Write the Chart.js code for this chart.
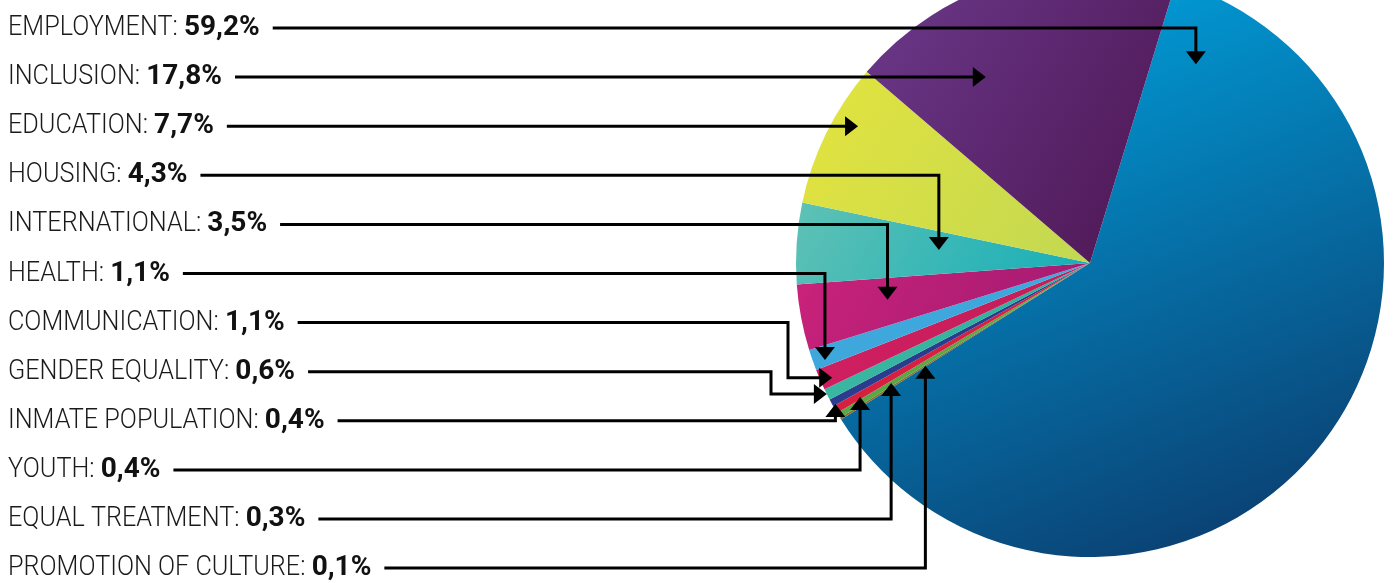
<!DOCTYPE html>
<html>
<head>
<meta charset="utf-8">
<script src="https://cdn.jsdelivr.net/npm/chart.js@4.4.1/dist/chart.umd.min.js"></script>
<style>
  html, body { margin: 0; padding: 0; background: #fff; overflow: hidden; }
</style>
</head>
<body>
<canvas id="pieChart" width="1395" height="583"></canvas>
<script>
// Data (listed top to bottom as in the legend)
const categories = ["EMPLOYMENT", "INCLUSION", "EDUCATION", "HOUSING", "INTERNATIONAL", "HEALTH",
  "COMMUNICATION", "GENDER EQUALITY", "INMATE POPULATION", "YOUTH", "EQUAL TREATMENT", "PROMOTION OF CULTURE"];
const shares = [59.2, 17.8, 7.7, 4.3, 3.5, 1.1, 1.1, 0.6, 0.4, 0.4, 0.3, 0.1];
const valueLabels = ["59,2%", "17,8%", "7,7%", "4,3%", "3,5%", "1,1%", "1,1%", "0,6%", "0,4%", "0,4%", "0,3%", "0,1%"];

// slice colours [light, dark]
const colors = [
  ["#00a3df", "#0b3d6f"], ["#6c3a8d", "#521b5b"], ["#e4e43d", "#c2d852"], ["#6ec5b5", "#18afb7"],
  ["#d8247f", "#a61c71"], ["#3ea8dd", "#3ea8dd"], ["#da2169", "#c41d58"], ["#45bfa5", "#2fb09e"],
  ["#2b3b8e", "#2b3b8e"], ["#d7203f", "#d7203f"], ["#58a847", "#58a847"], ["#8c6c2c", "#8c6c2c"]
];

// connector: where the arrow lands inside each slice
const arrowAngle = [0.05, 0.3, 0.65, 0.565, 0.53, 0.3, 0.35, 0.53, 0.12, 0.3, 0.6, 0.5];
const arrowDepth = [0.766, 0.72, 0.916, 0.516, 0.7, 0.96, 0.96, 1.0, 0.99, 0.905, 0.79, 0.66];
const arrowRoute = ["down", "straight", "straight", "down", "down", "down", "elbow", "elbow", "up", "up", "up", "up"];
const elbowGap = [0, 0, 0, 0, 0, 0, 8, 25, 0, 0, 0, 0];

// pie goes clockwise: employment first, then the smallest slices
const pieOrder = [0].concat(categories.map((c, i) => i).slice(1).reverse());

const rowTop = 28;
const rowGap = 49.1;

function pieGeom(chart) {
  const a = chart.chartArea;
  return { cx: (a.left + a.right) / 2, cy: (a.top + a.bottom) / 2, r: Math.min(a.width, a.height) / 2 };
}

function sliceColor(context) {
  const idx = pieOrder[context.dataIndex];
  const chart = context.chart;
  if (!chart.chartArea) return colors[idx][0];
  const g = pieGeom(chart);
  let grad;
  if (idx === 0) {
    grad = chart.ctx.createLinearGradient(g.cx - 0.25 * g.r, g.cy - g.r, g.cx + 0.55 * g.r, g.cy + g.r);
  } else {
    grad = chart.ctx.createLinearGradient(g.cx - g.r, g.cy - 0.6 * g.r, g.cx, g.cy);
  }
  grad.addColorStop(0, colors[idx][0]);
  grad.addColorStop(1, colors[idx][1]);
  return grad;
}

function arrowHead(ctx, x, y, dir) {
  const len = 13, half = 10;
  ctx.beginPath();
  ctx.moveTo(x, y);
  if (dir === "down") { ctx.lineTo(x - half, y - len); ctx.lineTo(x + half, y - len); }
  if (dir === "up") { ctx.lineTo(x - half, y + len); ctx.lineTo(x + half, y + len); }
  if (dir === "right") { ctx.lineTo(x - len, y - half); ctx.lineTo(x - len, y + half); }
  ctx.closePath();
  ctx.fill();
}

// the pie is taller than the canvas: let its top run off the page
const bleedPlugin = {
  id: "bleed",
  afterLayout(chart) {
    const a = chart.chartArea;
    a.top = a.bottom - a.width;
    a.height = a.width;
  }
};

const calloutPlugin = {
  id: "callouts",
  afterDatasetsDraw(chart) {
    const ctx = chart.ctx;
    const meta = chart.getDatasetMeta(0);
    const g = pieGeom(chart);
    const sxLight = 0.9, sxBold = 1.0;

    categories.forEach((name, i) => {
      const y = rowTop + i * rowGap;
      // label text
      ctx.save();
      ctx.textBaseline = "alphabetic";
      ctx.font = "300 28px Roboto";
      const lead = name + ": ";
      const w1 = ctx.measureText(lead).width * sxLight;
      ctx.font = "700 28px Roboto";
      const w2 = ctx.measureText(valueLabels[i]).width * sxBold;

      ctx.save();
      ctx.translate(8, y + 7);
      ctx.scale(sxLight, 1);
      ctx.font = "300 28px Roboto";
      ctx.fillStyle = "#1a1a1a";
      ctx.fillText(lead, 0, 0);
      ctx.restore();

      ctx.save();
      ctx.translate(8 + w1, y + 7);
      ctx.scale(sxBold, 1);
      ctx.font = "700 28px Roboto";
      ctx.fillStyle = "#111";
      ctx.fillText(valueLabels[i], 0, 0);
      ctx.restore();
      ctx.restore();
      const startX = 8 + w1 + w2 + 13;

      // arrow target inside the slice
      const arc = meta.data[pieOrder.indexOf(i)];
      const p = arc.getProps(["startAngle", "endAngle"], true);
      const ang = p.startAngle + arrowAngle[i] * (p.endAngle - p.startAngle);
      const tx = g.cx + Math.cos(ang) * arrowDepth[i] * g.r;
      const ty = g.cy + Math.sin(ang) * arrowDepth[i] * g.r;

      ctx.save();
      ctx.strokeStyle = "#000";
      ctx.fillStyle = "#000";
      ctx.lineWidth = 3;
      ctx.lineJoin = "miter";
      ctx.beginPath();
      ctx.moveTo(startX, y);
      const route = arrowRoute[i];
      if (route === "straight") {
        ctx.lineTo(tx - 10, y);
        ctx.stroke();
        arrowHead(ctx, tx, y, "right");
      } else if (route === "down") {
        ctx.lineTo(tx, y);
        ctx.lineTo(tx, ty - 10);
        ctx.stroke();
        arrowHead(ctx, tx, ty, "down");
      } else if (route === "up") {
        ctx.lineTo(tx, y);
        ctx.lineTo(tx, ty + 10);
        ctx.stroke();
        arrowHead(ctx, tx, ty, "up");
      } else {
        const ex = g.cx - g.r - elbowGap[i];
        ctx.lineTo(ex, y);
        ctx.lineTo(ex, ty);
        ctx.lineTo(tx - 10, ty);
        ctx.stroke();
        arrowHead(ctx, tx, ty, "right");
      }
      ctx.restore();
    });
  }
};

new Chart(document.getElementById("pieChart"), {
  type: "pie",
  data: {
    labels: pieOrder.map(i => categories[i]),
    datasets: [{
      data: pieOrder.map(i => shares[i]),
      backgroundColor: sliceColor,
      borderWidth: 0
    }]
  },
  options: {
    responsive: false,
    animation: false,
    rotation: 17,
    layout: { padding: { left: 796, right: 11, top: 0, bottom: 26 } },
    plugins: { legend: { display: false }, tooltip: { enabled: false } }
  },
  plugins: [bleedPlugin, calloutPlugin]
});
</script>
</body>
</html>
